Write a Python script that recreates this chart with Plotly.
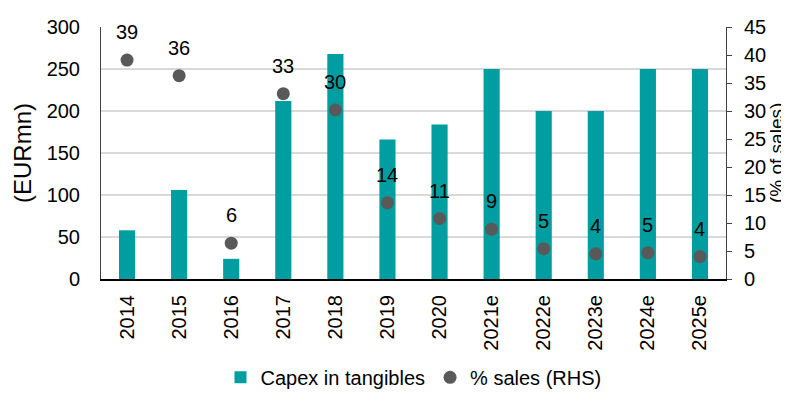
import plotly.graph_objects as go

years = ["2014", "2015", "2016", "2017", "2018", "2019", "2020",
         "2021e", "2022e", "2023e", "2024e", "2025e"]
capex = [58, 106, 24, 212, 268, 166, 184, 250, 200, 200, 250, 250]
pct_sales = [39.1, 36.3, 6.4, 33.1, 30.2, 13.6, 10.8, 8.9, 5.4, 4.5, 4.7, 4.0]
pct_labels = ["39", "36", "6", "33", "30", "14", "11", "9", "5", "4", "5", "4"]

font = "Liberation Sans, Arial, sans-serif"
pos = list(range(len(years)))

fig = go.Figure()
fig.add_trace(go.Bar(x=pos, y=capex, name="Capex in tangibles",
                     marker=dict(color="#009EA0", line=dict(width=0))))
fig.add_trace(go.Scatter(x=pos, y=pct_sales, name="% sales (RHS)", mode="markers",
                         marker=dict(color="#595959", size=13), yaxis="y2"))

# value labels above the dots
for x, y, t in zip(pos, pct_sales, pct_labels):
    fig.add_annotation(x=x, y=y, xref="x", yref="y2", text=t, showarrow=False,
                       yshift=28, font=dict(size=20, color="#000000", family=font))

# right axis title, placed by hand so it stays inside the page
fig.add_annotation(x=1.0, xref="paper", xshift=50, xanchor="center",
                   y=0.5, yref="paper", yanchor="middle", textangle=-90,
                   text="(% of sales)", showarrow=False,
                   font=dict(size=19, color="#000000", family=font))

fig.update_layout(
    width=789, height=401,
    margin=dict(l=93, r=71, t=19, b=120),
    plot_bgcolor="white", paper_bgcolor="white",
    font=dict(family=font, size=20, color="#000000"),
    bargap=0.69,
    showlegend=True,
    legend=dict(orientation="h", x=0.5, xanchor="center", y=-0.39, yanchor="middle",
                font=dict(size=20), itemwidth=30),
)
fig.update_xaxes(range=[-0.5, 11.5], tickmode="array", tickvals=pos, ticktext=years,
                 tickangle=-90, showline=True, linecolor="#000000", linewidth=2,
                 ticks="", showgrid=False, zeroline=False, automargin=False,
                 ticklabelstandoff=6, tickfont=dict(size=20, family=font))
fig.update_layout(
    yaxis=dict(range=[0, 300], dtick=50, showgrid=True, gridcolor="#D9D9D9",
               gridwidth=1.5, showline=True, linecolor="#404040", linewidth=1,
               zeroline=False, automargin=False, ticklabelstandoff=16,
               title=dict(text="(EURmn)", standoff=8),
               tickfont=dict(size=20, family=font)),
    yaxis2=dict(range=[0, 45], dtick=5, overlaying="y", side="right",
                showgrid=False, showline=True, linecolor="#404040", linewidth=1,
                ticks="outside", ticklen=5, tickcolor="#404040", zeroline=False,
                automargin=False, ticklabelstandoff=8,
                tickfont=dict(size=20, family=font)),
)

fig.write_html("out.html")
